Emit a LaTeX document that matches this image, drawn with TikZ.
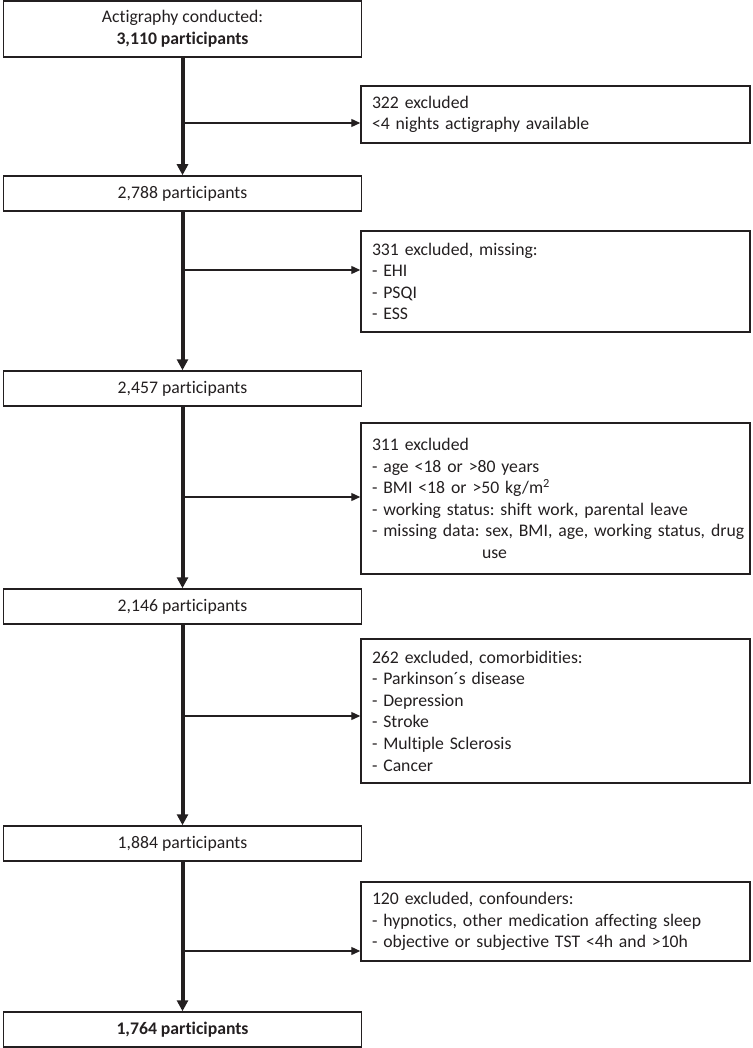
\documentclass[tikz,border=0pt]{standalone}
\usepackage{fontspec}
\setmainfont{Carlito}[Ligatures={NoCommon}]
\usetikzlibrary{arrows.meta}
\definecolor{ink}{HTML}{231F20}
\frenchspacing
\begin{document}
\begin{tikzpicture}[x=1pt,y=-1pt,
  box/.style={draw=ink, line width=1.5pt, inner sep=0pt, minimum width=358pt,
    align=center, text=ink, font=\fontsize{17.7}{21.6}\selectfont},
  excl/.style={draw=ink, line width=1.5pt, inner xsep=11pt, inner ysep=0pt,
    minimum width=389pt, text width=367pt, align=left, text=ink,
    font=\fontsize{17.7}{21.6}\selectfont},
  mainarrow/.style={draw=ink, line width=4pt, -{Triangle[length=11pt,width=11pt]}},
  sidearrow/.style={draw=ink, line width=1.3pt, -{Triangle[length=9pt,width=8pt]}}]
\useasboundingbox (0,0) rectangle (752,1048);

% main boxes
\node[box, minimum height=56pt] (b1) at (182.5,29) {Actigraphy conducted:\\ \textbf{3,110 participants}};
\node[box, minimum height=35pt] (b2) at (182.5,193.5) {2,788 participants};
\node[box, minimum height=35pt] (b3) at (182.5,388.5) {2,457 participants};
\node[box, minimum height=35pt] (b4) at (182.5,606.5) {2,146 participants};
\node[box, minimum height=35pt] (b5) at (182.5,843.5) {1,884 participants};
\node[box, minimum height=35pt] (b6) at (182.5,1029.5) {\textbf{1,764 participants}};

% exclusion boxes
\node[excl, minimum height=57pt] (e1) at (555.5,114.5) {322 excluded\\ <4 nights actigraphy available};
\node[excl, minimum height=101pt] (e2) at (555.5,281.5) {331 excluded, missing:\\ - EHI\\ - PSQI\\ - ESS};
\node[excl, minimum height=151pt] (e3) at (555.5,498.5) {311 excluded\\ - age <18 or >80 years\\ - BMI <18 or >50 kg/m\textsuperscript{2}\\ - working status: shift work, parental leave\\ \mbox{- missing data: sex, BMI, age, working status, drug}\\ \hspace*{110pt}use};
\node[excl, minimum height=144pt] (e4) at (555.5,711) {262 excluded, comorbidities:\\ - Parkinson´s disease\\ - Depression\\ - Stroke\\ - Multiple Sclerosis\\ - Cancer};
\node[excl, minimum height=79pt] (e5) at (555.5,921.5) {120 excluded, confounders:\\ - hypnotics, other medication affecting sleep\\ - objective or subjective TST <4h and >10h};

% main flow
\draw[mainarrow] (b1.south) -- (b2.north);
\draw[mainarrow] (b2.south) -- (b3.north);
\draw[mainarrow] (b3.south) -- (b4.north);
\draw[mainarrow] (b4.south) -- (b5.north);
\draw[mainarrow] (b5.south) -- (b6.north);

% branch points
\coordinate (j1) at (182.5,123);
\coordinate (j2) at (182.5,270);
\coordinate (j3) at (182.5,497);
\coordinate (j4) at (182.5,716);
\coordinate (j5) at (182.5,951);

\draw[sidearrow] (j1) -- (j1 -| e1.west);
\draw[sidearrow] (j2) -- (j2 -| e2.west);
\draw[sidearrow] (j3) -- (j3 -| e3.west);
\draw[sidearrow] (j4) -- (j4 -| e4.west);
\draw[sidearrow] (j5) -- (j5 -| e5.west);
\end{tikzpicture}
\end{document}
